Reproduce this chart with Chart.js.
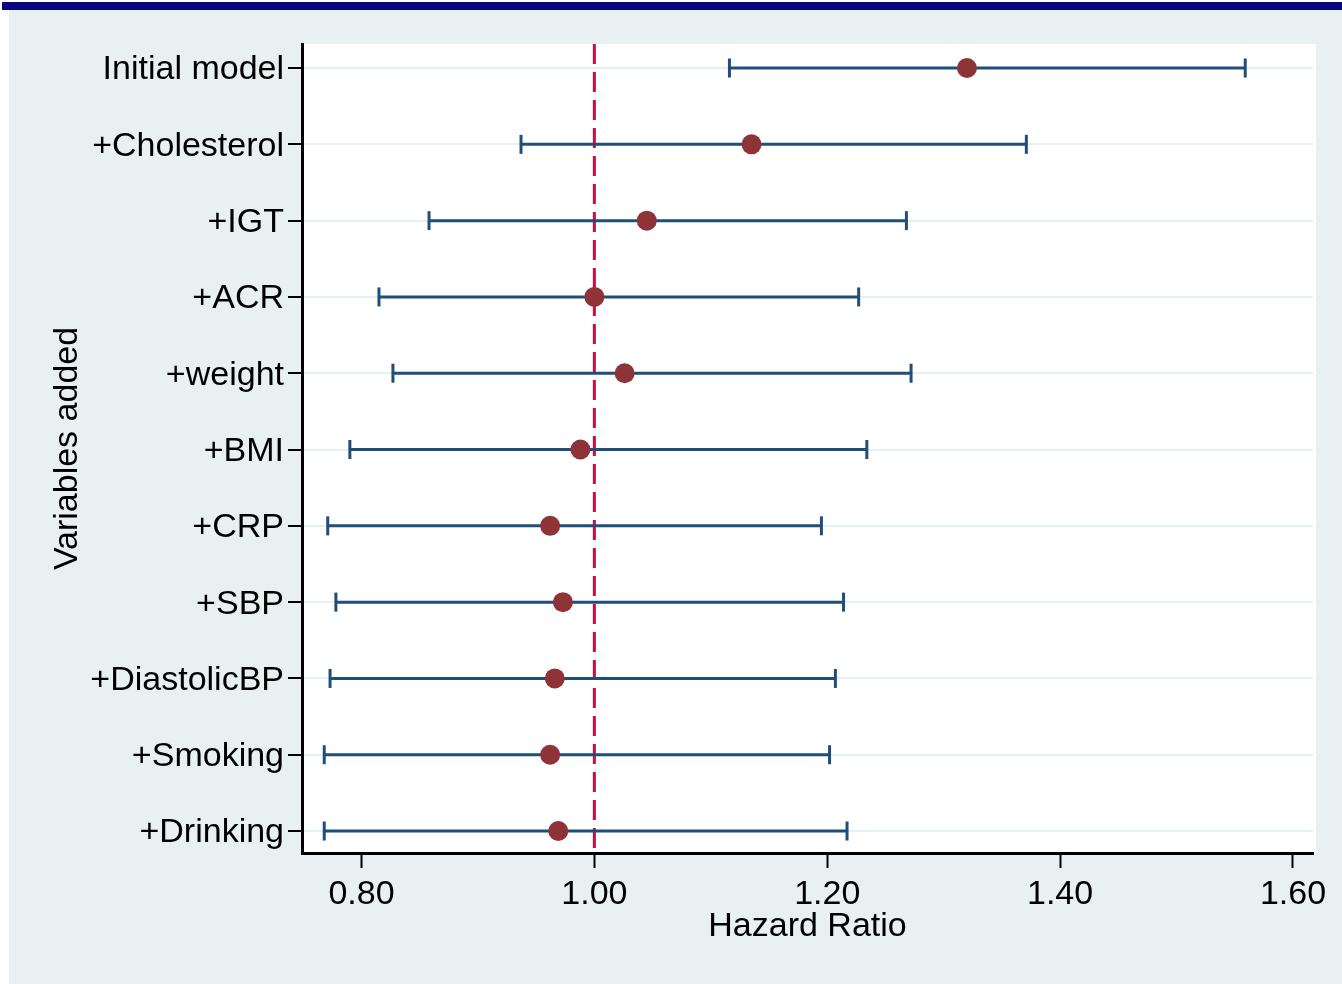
<!DOCTYPE html>
<html>
<head>
<meta charset="utf-8">
<script src="https://cdn.jsdelivr.net/npm/chart.js@4.4.1/dist/chart.umd.min.js"></script>
<style>
html,body{margin:0;padding:0;background:#fff}
canvas{display:block}
</style>
</head>
<body>
<canvas id="forest" width="1342" height="984"></canvas>
<script>
// rows, top to bottom
const ROWS=['Initial model','+Cholesterol','+IGT','+ACR','+weight','+BMI','+CRP','+SBP','+DiastolicBP','+Smoking','+Drinking'];
const HR=[1.320,1.135,1.045,1.000,1.026,0.988,0.962,0.973,0.966,0.962,0.969];
const LO=[1.116,0.937,0.858,0.815,0.827,0.790,0.771,0.778,0.773,0.768,0.768];
const HI=[1.559,1.371,1.268,1.227,1.272,1.234,1.195,1.214,1.207,1.202,1.217];
const X_TICKS=[0.80,1.00,1.20,1.40,1.60];
const REF_HR=1.00;

const X_MIN=0.7489,X_MAX=1.6172,Y_MIN=0.685,Y_MAX=11.288;
const FONT="'Liberation Sans', Arial, sans-serif";
const CI_COL='#1f4e79',DOT_COL='#8e3438',REF_COL='#c8103e';

/* ── Stata-ish frame: navy rule, pale blue outer region, white plot region ── */
const frame={
  id:'frame',
  beforeDraw(chart){
    const {ctx,chartArea:a}=chart;
    ctx.save();
    ctx.fillStyle='#fff';ctx.fillRect(0,0,chart.width,chart.height);
    ctx.fillStyle='#07087f';ctx.fillRect(2,2,chart.width-2,8);
    ctx.fillStyle='#e8f0f2';ctx.fillRect(9,10,chart.width-9,chart.height-10);
    ctx.fillStyle='#fff';ctx.fillRect(a.left,a.top,a.right-a.left+3,a.bottom-a.top);
    ctx.restore();
  }
};

const ciSets=ROWS.map((r,i)=>({
  type:'line',label:r,
  data:[{x:LO[i],y:i+1},{x:HI[i],y:i+1}],
  borderColor:CI_COL,borderWidth:3,
  pointStyle:'line',pointRotation:90,pointRadius:9.5,
  pointBorderColor:CI_COL,pointBorderWidth:3,
  order:1
}));

new Chart(document.getElementById('forest'),{
  type:'scatter',
  data:{datasets:[
    {label:'HR',data:HR.map((v,i)=>({x:v,y:i+1})),
      pointRadius:10,backgroundColor:DOT_COL,borderColor:DOT_COL,borderWidth:0,order:0},
    ...ciSets,
    {type:'line',label:'ref',data:[{x:REF_HR,y:Y_MIN},{x:REF_HR,y:Y_MAX}],
      borderColor:REF_COL,borderWidth:3,borderDash:[20,8],pointRadius:0,order:2}
  ]},
  options:{
    responsive:false,animation:false,events:[],
    layout:{padding:{top:44,right:29,bottom:0,left:0}},
    plugins:{legend:{display:false},tooltip:{enabled:false}},
    scales:{
      x:{type:'linear',min:X_MIN,max:X_MAX,
        afterBuildTicks:s=>{s.ticks=X_TICKS.map(v=>({value:v}));},
        afterFit:s=>{s.height=131;},
        ticks:{callback:v=>Number(v).toFixed(2),font:{family:FONT,size:34},color:'#000',padding:6,autoSkip:false,maxRotation:0},
        grid:{drawOnChartArea:false,tickColor:'#000',tickLength:15,tickWidth:2},
        border:{color:'#000',width:3},
        title:{display:true,text:'Hazard Ratio',font:{family:FONT,size:34},color:'#000',padding:{top:0,bottom:37}}
      },
      y:{type:'linear',reverse:true,min:Y_MIN,max:Y_MAX,
        afterBuildTicks:s=>{s.ticks=ROWS.map((_,i)=>({value:i+1}));},
        afterFit:s=>{s.width=302;},
        ticks:{callback:v=>ROWS[Math.round(v)-1],font:{family:FONT,size:34},color:'#000',padding:4,autoSkip:false,labelOffset:2},
        grid:{color:'#e8eff2',lineWidth:2,tickColor:'#000',tickLength:14,tickWidth:2},
        border:{color:'#000',width:3},
        title:{display:true,text:'Variables added',font:{family:FONT,size:34},color:'#000',padding:{top:47,bottom:0}}
      }
    }
  },
  plugins:[frame]
});
</script>
</body>
</html>
